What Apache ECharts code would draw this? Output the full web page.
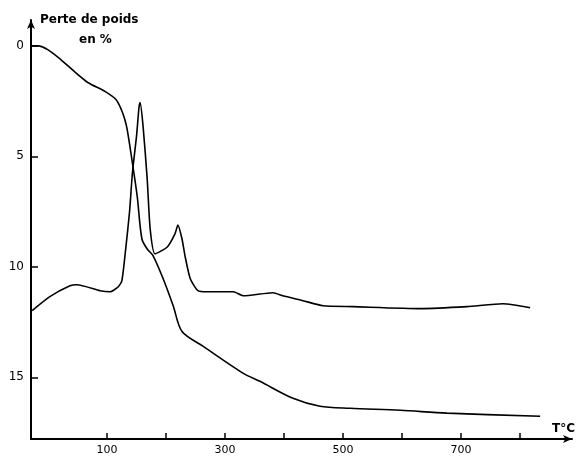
<!DOCTYPE html>
<html>
<head>
<meta charset="utf-8">
<script src="https://cdn.jsdelivr.net/npm/echarts@6/dist/echarts.min.js"></script>
<style>html,body{margin:0;padding:0;background:#fff}#c{width:580px;height:456px}</style>
</head>
<body>
<div id="c"></div>
<script>
// Weight loss curve (TG)
var tgTemp = [-29, -17, 0, 22, 51, 68, 97, 115, 124, 130, 134, 142, 151, 159, 168, 178, 195, 212, 227, 263, 331, 359, 415, 461, 512, 597, 676, 834];
var tgLoss = [0, 0, 0.18, 0.63, 1.31, 1.67, 2.07, 2.43, 2.88, 3.33, 3.78, 5.14, 6.80, 8.74, 9.19, 9.50, 10.54, 11.76, 12.93, 13.60, 14.82, 15.18, 15.95, 16.31, 16.40, 16.49, 16.62, 16.76];
// Second (differential) curve
var dtaTemp = [-27, 3, 37, 49, 88, 105, 119, 125, 131, 138, 143, 150, 154, 156, 161, 168, 173, 181, 202, 215, 220, 227, 232, 241, 254, 269, 314, 331, 381, 398, 432, 466, 517, 631, 710, 771, 817];
var dtaVal  = [11.98, 11.35, 10.86, 10.81, 11.08, 11.13, 10.90, 10.63, 9.32, 7.52, 5.72, 4.05, 2.80, 2.57, 3.65, 6.04, 8.29, 9.41, 9.10, 8.51, 8.11, 8.74, 9.50, 10.54, 11.08, 11.13, 11.13, 11.31, 11.17, 11.31, 11.53, 11.76, 11.80, 11.89, 11.80, 11.67, 11.85];
// Axis ticks
var xTicks = [100, 200, 300, 400, 500, 600, 700, 800];
var xLabels = [100, 300, 500, 700];
var yTicks = [0, 5, 10, 15];

function pairs(xs, ys) { return xs.map(function (x, i) { return [x, ys[i]]; }); }

var chart = echarts.init(document.getElementById('c'), null, { renderer: 'canvas' });
var font = 'DejaVu Sans';
chart.setOption({
  animation: false,
  backgroundColor: '#fff',
  grid: { left: 31, right: 8, top: 20, bottom: 15 },
  xAxis: {
    type: 'value', min: -29, max: 888,
    splitLine: { show: false },
    axisLine: { show: true, onZero: false, symbol: ['none', 'arrow'], symbolSize: [6, 9], lineStyle: { color: '#000', width: 2 } },
    axisTick: { show: true, inside: true, length: 6, customValues: xTicks, lineStyle: { color: '#000', width: 1.5 } },
    axisLabel: { show: true, customValues: xLabels, margin: 6, color: '#000', fontSize: 11, fontFamily: font }
  },
  yAxis: {
    type: 'value', inverse: true, min: -1.17, max: 17.79,
    splitLine: { show: false },
    axisLine: { show: true, onZero: false, symbol: ['none', 'arrow'], symbolSize: [6, 9], lineStyle: { color: '#000', width: 2 } },
    axisTick: { show: true, inside: true, length: 7, customValues: yTicks, lineStyle: { color: '#000', width: 1.5 } },
    axisLabel: { show: true, customValues: yTicks, margin: 7, color: '#000', fontSize: 12, fontFamily: font }
  },
  graphic: [
    { type: 'text', left: 40, top: 14, style: { text: 'Perte de poids', fill: '#000', font: 'bold 12px "DejaVu Sans"' } },
    { type: 'text', left: 79, top: 34, style: { text: 'en %', fill: '#000', font: 'bold 12px "DejaVu Sans"' } },
    { type: 'text', left: 552, top: 423, style: { text: 'T°C', fill: '#000', font: 'bold 12px "DejaVu Sans"' } }
  ],
  series: [
    { type: 'line', data: pairs(tgTemp, tgLoss), smooth: 0.3, showSymbol: false, lineStyle: { color: '#000', width: 1.6 } },
    { type: 'line', data: pairs(dtaTemp, dtaVal), smooth: 0.2, showSymbol: false, lineStyle: { color: '#000', width: 1.6 } }
  ]
});
</script>
</body>
</html>
